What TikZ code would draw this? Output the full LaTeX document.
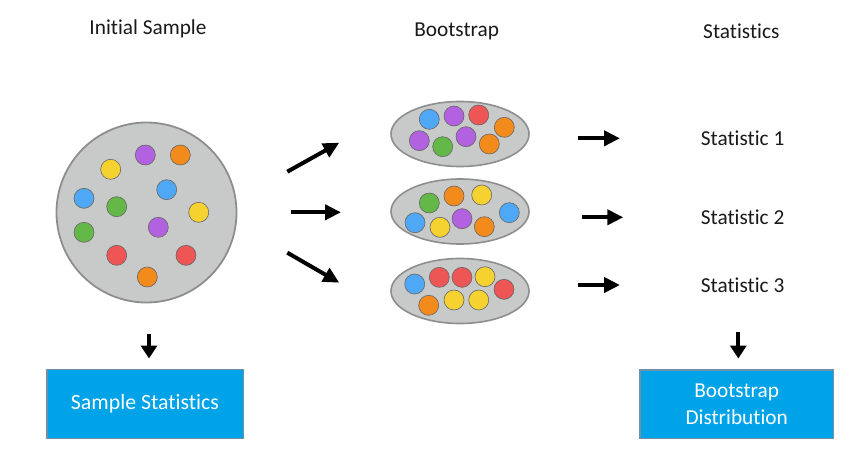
\documentclass[tikz,border=0pt]{standalone}
\usepackage{fontspec}
\setmainfont{Carlito}[Ligatures={NoCommon}]
\usetikzlibrary{arrows.meta,shapes.geometric}
\definecolor{dblue}{HTML}{4EA8F5}
\definecolor{dpurple}{HTML}{B262E0}
\definecolor{dorange}{HTML}{F28A1C}
\definecolor{dyellow}{HTML}{F6D230}
\definecolor{dgreen}{HTML}{64B847}
\definecolor{dred}{HTML}{EE5656}
\definecolor{poolfill}{HTML}{C8C9C9}
\definecolor{poolline}{HTML}{8E8E8E}
\definecolor{boxfill}{HTML}{00A2E8}
\definecolor{boxline}{HTML}{7090AA}
\definecolor{ink}{HTML}{1A1A1A}
\tikzset{
  dot/.style={circle, minimum size=20pt, inner sep=0pt, draw=black!60, line width=0.6pt, fill=#1},
  poolcircle/.style={circle, minimum size=180pt, inner sep=0pt, draw=poolline, fill=poolfill, line width=1.8pt},
  poolellipse/.style={ellipse, minimum width=138pt, minimum height=65pt, inner sep=0pt, draw=poolline, fill=poolfill, line width=1.6pt},
  txt/.style={font=\fontsize{21.3}{26.7}\selectfont, text=ink, inner sep=0pt},
  bluebox/.style={rectangle, draw=boxline, fill=boxfill, line width=1.6pt, text=white,
    font=\fontsize{21.8}{26.7}\selectfont, align=center, inner sep=0pt, minimum width=196pt, minimum height=68pt},
  bigarrow/.style={line width=4pt, -{Triangle[length=16pt,width=15pt]}, black},
  downarrow/.style={line width=3.8pt, -{Triangle[length=13pt,width=16pt]}, black}
}
\begin{document}
\begin{tikzpicture}[x=1pt,y=-1pt]
\useasboundingbox (0,0) rectangle (850,460);
\fill[white] (0,0) rectangle (850,460);

% titles
\node[txt, anchor=base] (t1) at (148,35) {Initial Sample};
\node[txt, anchor=base] (t2) at (456.7,36.5) {Bootstrap};
\node[txt, anchor=base] (t3) at (741.3,38) {Statistics};

% initial sample
\node[poolcircle] (init) at (146.5,212.5) {};
\foreach \px/\py/\c [count=\i] in {
  110.7/169.3/dyellow, 145.3/155/dpurple, 180.3/155/dorange,
  166.7/189.7/dblue, 84/198.3/dblue, 116.7/206.7/dgreen,
  198.7/212.3/dyellow, 158.3/227.3/dpurple, 84/232.3/dgreen,
  116.7/255.3/dred, 186/255.3/dred, 147.3/277/dorange}
  \node[dot=\c] (s\i) at (\px,\py) {};

% bootstrap samples
\node[poolellipse] (b1) at (460,134) {};
\foreach \px/\py/\c [count=\i] in {
  429.3/119.3/dblue, 454/116/dpurple, 478.7/115/dred, 504.3/127.3/dorange,
  419.3/140.7/dpurple, 442.7/146.7/dgreen, 466/136.7/dpurple, 489.3/144/dorange}
  \node[dot=\c] (b1d\i) at (\px,\py) {};

\node[poolellipse] (b2) at (460,211.5) {};
\foreach \px/\py/\c [count=\i] in {
  429.3/203/dgreen, 454/196/dorange, 481.7/195/dyellow,
  415/222.7/dblue, 440/227.3/dyellow, 462/218.7/dpurple, 484.3/226.7/dorange, 509.3/212.7/dblue}
  \node[dot=\c] (b2d\i) at (\px,\py) {};

\node[poolellipse] (b3) at (460,291) {};
\foreach \px/\py/\c [count=\i] in {
  414.7/284/dblue, 439.3/277.3/dred, 462/277.3/dred, 485/276.7/dyellow,
  504/289.3/dred, 428.7/305.3/dorange, 454/300/dyellow, 478.7/300/dyellow}
  \node[dot=\c] (b3d\i) at (\px,\py) {};

% statistics
\node[txt, anchor=base west] (st1) at (700.7,145) {Statistic 1};
\node[txt, anchor=base west] (st2) at (700.7,224.3) {Statistic 2};
\node[txt, anchor=base west] (st3) at (700.7,292.3) {Statistic 3};

% boxes
\node[bluebox, minimum width=196.6pt, minimum height=69pt] (sampstat) at (145,403.8) {\raisebox{-5pt}{Sample Statistics}};
\node[bluebox, font=\fontsize{21.3}{26.7}\selectfont, minimum width=193.3pt, minimum height=68.3pt] (bootdist) at (736.7,404.2) {\raisebox{-2pt}{Bootstrap}\\\raisebox{-2pt}{Distribution}};

% arrow end points
\coordinate (a1s) at (287.3,171.7); \coordinate (a1e) at (339.3,142.7);
\coordinate (a2s) at (290.7,212.3); \coordinate (a2e) at (341,212.3);
\coordinate (a3s) at (287.3,252.7); \coordinate (a3e) at (339.3,282.7);
\coordinate (c1s) at (578.3,138.3); \coordinate (c1e) at (620,138.3);
\coordinate (c2s) at (582.3,217.3); \coordinate (c2e) at (623.3,217.3);
\coordinate (c3s) at (578.3,285);   \coordinate (c3e) at (620,285);
\coordinate (d1s) at (149,334);     \coordinate (d1e) at (149,358.5);
\coordinate (d2s) at (738.3,332);   \coordinate (d2e) at (738.3,358.5);

\draw[bigarrow] (a1s) -- (a1e);
\draw[bigarrow] (a2s) -- (a2e);
\draw[bigarrow] (a3s) -- (a3e);
\draw[bigarrow] (c1s) -- (c1e);
\draw[bigarrow] (c2s) -- (c2e);
\draw[bigarrow] (c3s) -- (c3e);
\draw[downarrow] (d1s) -- (d1e);
\draw[downarrow] (d2s) -- (d2e);
\end{tikzpicture}
\end{document}
